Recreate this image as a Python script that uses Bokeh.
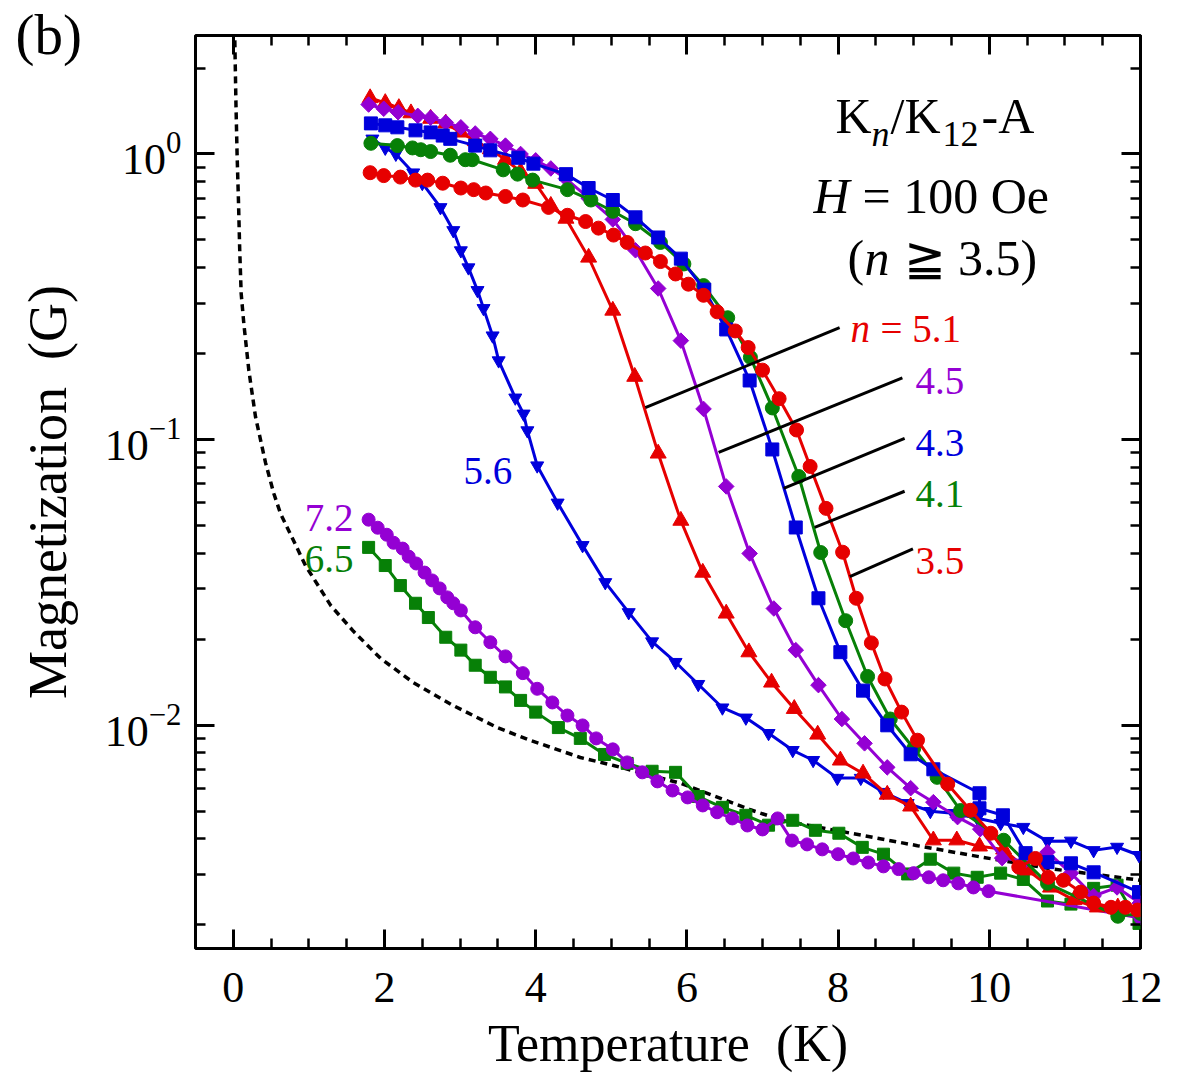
from bokeh.plotting import figure
from bokeh.models import (Range1d, LinearAxis, LogAxis, SingleIntervalTicker, LogTicker, Label,
                          CustomJSTickFormatter)
from bokeh.embed import file_html
from bokeh.resources import INLINE

FONT = "Liberation Serif"
RED = "#e60000"
BLUE = "#0000dc"
GREEN = "#078007"
PURPLE = "#9400d3"

# ---------------- data ----------------
# n = 3.5 : red circles
t_35 = [1.81, 1.99, 2.21, 2.41, 2.57, 2.77, 3.01, 3.18, 3.34, 3.60, 3.83, 4.17, 4.42, 4.66, 4.83,
        5.03, 5.21, 5.45, 5.65, 5.85, 6.02, 6.22, 6.40, 6.64, 6.81, 7.00, 7.22, 7.45, 7.63, 7.84,
        8.06, 8.24, 8.44, 8.62, 8.84, 9.05, 9.45, 9.75, 10.02, 10.39, 10.61, 10.78, 10.98, 11.21,
        11.38, 11.61, 11.80, 11.96]
m_35 = [0.86, 0.84, 0.83, 0.81, 0.81, 0.79, 0.76, 0.75, 0.73, 0.71, 0.69, 0.65, 0.61, 0.58, 0.55,
        0.52, 0.49, 0.45, 0.42, 0.38, 0.35, 0.32, 0.28, 0.24, 0.21, 0.175, 0.139, 0.108, 0.0805, 0.0574,
        0.0403, 0.0278, 0.0194, 0.0145, 0.0111, 0.00885, 0.00621, 0.00503, 0.00418, 0.00318, 0.00341,
        0.00293, 0.00286, 0.0026, 0.00238, 0.0023, 0.0023, 0.00225]

# n = 4.1 : green circles
t_41 = [1.82, 2.17, 2.37, 2.48, 2.61, 2.87, 3.07, 3.16, 3.57, 3.76, 3.96, 4.42, 4.73, 5.02, 5.32,
        5.65, 5.96, 6.22, 6.54, 6.84, 7.13, 7.48, 7.77, 8.10, 8.39, 8.69, 9.00, 9.31, 9.62, 10.19,
        10.77, 11.70, 12.0]
m_41 = [1.09, 1.07, 1.05, 1.035, 1.02, 0.99, 0.955, 0.955, 0.88, 0.85, 0.81, 0.75, 0.69, 0.63, 0.57,
        0.49, 0.412, 0.346, 0.267, 0.194, 0.129, 0.0742, 0.0402, 0.0232, 0.0148, 0.0105, 0.00828,
        0.00656, 0.00502, 0.00395, 0.00279, 0.00214, 0.00219]

# n = 4.3 : blue squares
t_43 = [1.82, 2.01, 2.17, 2.41, 2.61, 2.77, 2.87, 3.20, 3.40, 3.77, 3.97, 4.40, 4.70, 5.02, 5.32,
        5.62, 5.92, 6.23, 6.52, 6.83, 7.13, 7.44, 7.74, 8.03, 8.33, 8.65, 8.96, 9.26, 9.87, 9.87,
        10.18, 10.48, 10.77, 11.08, 11.38, 11.98]
m_43 = [1.28, 1.26, 1.24, 1.21, 1.19, 1.16, 1.13, 1.07, 1.03, 0.97, 0.925, 0.85, 0.76, 0.69, 0.60,
        0.51, 0.43, 0.335, 0.243, 0.161, 0.0923, 0.0492, 0.0278, 0.018, 0.0132, 0.00998, 0.0079,
        0.0070, 0.00577, 0.00511, 0.00483, 0.00356, 0.00331, 0.00328, 0.00305, 0.0026]

# n = 4.5 : violet diamonds
t_45 = [1.79, 1.99, 2.18, 2.44, 2.61, 2.81, 3.01, 3.20, 3.40, 3.60, 3.80, 4.00, 4.20, 4.40, 4.70,
        5.02, 5.32, 5.62, 5.92, 6.22, 6.52, 6.83, 7.15, 7.44, 7.74, 8.05, 8.35, 8.65, 8.96, 9.26,
        9.58, 9.88, 10.17, 10.47, 10.77, 11.08, 11.38, 11.69, 11.99]
m_45 = [1.49, 1.44, 1.40, 1.36, 1.34, 1.29, 1.24, 1.18, 1.13, 1.07, 1.00, 0.95, 0.89, 0.82, 0.70,
        0.59, 0.46, 0.338, 0.222, 0.128, 0.0685, 0.0399, 0.0256, 0.0183, 0.0138, 0.0105, 0.00863,
        0.00711, 0.00601, 0.00537, 0.00476, 0.00432, 0.00342, 0.00334, 0.00359, 0.00303, 0.00252,
        0.0027, 0.00238]

# n = 5.1 : red triangles
t_51 = [1.81, 2.01, 2.19, 2.35, 2.61, 2.81, 3.01, 3.20, 3.40, 3.60, 3.80, 4.00, 4.20, 4.40, 4.70,
        5.02, 5.31, 5.62, 5.92, 6.21, 6.52, 6.82, 7.12, 7.42, 7.73, 8.03, 8.33, 8.65, 8.96, 9.26,
        9.57, 9.87, 10.19, 10.51, 10.81, 11.12, 11.43, 11.70, 11.98]
m_51 = [1.57, 1.51, 1.45, 1.39, 1.33, 1.28, 1.19, 1.11, 1.04, 0.955, 0.867, 0.787, 0.659, 0.594,
        0.434, 0.283, 0.166, 0.0894, 0.052, 0.0342, 0.0246, 0.018, 0.0141, 0.0114, 0.00927, 0.00752,
        0.00677, 0.00571, 0.00519, 0.00395, 0.00395, 0.00376, 0.00367, 0.0031, 0.0027, 0.00244,
        0.0023, 0.0023, 0.00223]

# n = 5.6 : blue inverted triangles
t_56 = [1.84, 2.01, 2.15, 2.38, 2.50, 2.74, 2.91, 3.01, 3.11, 3.23, 3.31, 3.43, 3.51, 3.73, 3.84,
        3.89, 4.02, 4.29, 4.62, 4.92, 5.23, 5.54, 5.85, 6.15, 6.47, 6.78, 7.08, 7.40, 7.67, 7.99,
        8.30, 8.60, 8.92, 9.22, 9.52, 9.84, 10.15, 10.45, 10.77, 11.08, 11.38, 11.69, 11.98]
m_56 = [1.13, 1.05, 1.00, 0.86, 0.79, 0.65, 0.54, 0.459, 0.40, 0.333, 0.288, 0.231, 0.189, 0.140,
        0.123, 0.1075, 0.081, 0.060, 0.0426, 0.0316, 0.0248, 0.0196, 0.0166, 0.0139, 0.0115, 0.0106,
        0.00936, 0.00816, 0.00753, 0.00652, 0.00652, 0.00582, 0.00532, 0.00499, 0.00491, 0.00472,
        0.00453, 0.00439, 0.00392, 0.00393, 0.00364, 0.00374, 0.0035]

# n = 6.5 : green squares
t_65 = [1.79, 2.01, 2.21, 2.41, 2.58, 2.81, 3.01, 3.20, 3.40, 3.60, 3.80, 4.00, 4.30, 4.59, 4.91,
        5.21, 5.54, 5.85, 6.15, 6.47, 6.78, 7.08, 7.40, 7.70, 8.01, 8.32, 8.60, 8.92, 9.22, 9.53,
        9.84, 10.15, 10.45, 10.77, 11.08, 11.38, 11.69, 11.98]
m_65 = [0.0419, 0.0362, 0.0308, 0.0267, 0.0238, 0.0203, 0.0183, 0.0162, 0.0147, 0.0136, 0.0122,
        0.0111, 0.0098, 0.00898, 0.00789, 0.00734, 0.00689, 0.00683, 0.00562, 0.00515, 0.00483,
        0.00446, 0.00464, 0.00428, 0.00418, 0.00373, 0.00353, 0.00301, 0.00339, 0.00303, 0.00293,
        0.00303, 0.00288, 0.00242, 0.00236, 0.00268, 0.00275, 0.00202]

# n = 7.2 : violet circles
t_72 = [1.79, 1.91, 2.03, 2.12, 2.24, 2.32, 2.42, 2.53, 2.63, 2.73, 2.83, 2.91, 3.01, 3.20, 3.40,
        3.60, 3.83, 4.02, 4.22, 4.42, 4.62, 4.80, 5.02, 5.21, 5.41, 5.61, 5.81, 6.01, 6.21, 6.40,
        6.60, 6.80, 7.00, 7.20, 7.39, 7.59, 7.79, 8.00, 8.20, 8.40, 8.60, 8.80, 9.00, 9.20, 9.39,
        9.59, 9.79, 9.99, 12.0]
m_72 = [0.0524, 0.0491, 0.0464, 0.0435, 0.0415, 0.0389, 0.0368, 0.0342, 0.0321, 0.0301, 0.0280,
        0.0267, 0.0252, 0.0220, 0.0195, 0.0174, 0.0152, 0.0134, 0.0120, 0.0108, 0.00997, 0.00898,
        0.00822, 0.0074, 0.00683, 0.00635, 0.0059, 0.00558, 0.00523, 0.00495, 0.00471, 0.00445,
        0.00431, 0.00471, 0.00394, 0.00382, 0.00367, 0.00353, 0.00341, 0.0033, 0.0032, 0.00313,
        0.00303, 0.00293, 0.00286, 0.00279, 0.0027, 0.00262, 0.00211]

# dotted reference curve
t_fit = [0.02, 0.035, 0.05, 0.068, 0.085, 0.104, 0.139, 0.205, 0.294, 0.426, 0.536, 0.624, 0.955,
         1.29, 1.59, 1.95, 2.38, 2.91, 3.49, 3.93, 4.59, 5.03, 5.92, 6.84, 7.28, 8.17, 9.05, 9.92,
         10.81, 11.70, 12.0]
m_fit = [2.5, 1.5, 1.0, 0.69, 0.46, 0.325, 0.255, 0.175, 0.12, 0.083, 0.0647, 0.0551, 0.0362,
         0.0262, 0.0213, 0.0171, 0.0141, 0.0117, 0.0098, 0.00884, 0.0077, 0.00722, 0.00625, 0.00505,
         0.00462, 0.00418, 0.00378, 0.00344, 0.00314, 0.00293, 0.00286]

# leader lines for the n labels (5.1, 4.5, 4.3, 4.1, 3.5)
lead_t0 = [5.45, 6.42, 7.28, 7.69, 8.155]
lead_m0 = [0.1294, 0.0901, 0.0675, 0.0492, 0.0331]
lead_t1 = [8.02, 8.85, 8.88, 8.88, 8.99]
lead_m1 = [0.2465, 0.1644, 0.101, 0.0659, 0.0414]

x_ticks_interval = 2

# ---------------- figure ----------------
p = figure(frame_width=945, frame_height=913,
           min_border_left=195, min_border_right=40, min_border_top=35, min_border_bottom=137,
           x_range=Range1d(-0.5, 12), y_range=Range1d(0.00165, 2.6), y_axis_type="log",
           output_backend="svg", toolbar_location=None)
p.background_fill_color = "white"
p.border_fill_color = "white"
p.xgrid.visible = False
p.ygrid.visible = False
p.outline_line_color = "black"
p.outline_line_width = 3
p.outline_line_alpha = 1.0

# panel letter "(b)" drawn as the plot title, pulled to the left of the frame
p.title.text = "(b)"
p.title.align = "left"
p.title.offset = -180
p.title.standoff = -60
p.title.vertical_align = "bottom"
p.title.text_font = FONT
p.title.text_font_size = "57px"
p.title.text_font_style = "normal"
p.title.text_color = "black"


def style_axis(ax, labels=True):
    ax.axis_line_color = None
    ax.major_tick_in = 19
    ax.major_tick_out = 0
    ax.minor_tick_in = 10
    ax.minor_tick_out = 0
    ax.major_tick_line_width = 3
    ax.minor_tick_line_width = 2.5
    ax.major_tick_line_color = "black"
    ax.minor_tick_line_color = "black"
    ax.major_label_text_font = FONT
    ax.major_label_text_color = "black"
    ax.axis_label_text_color = "black"
    if labels:
        ax.major_label_text_font_size = "44px"
    else:
        ax.formatter = CustomJSTickFormatter(code="return ''")
        ax.major_label_text_font_size = "1px"
        ax.major_label_standoff = 0
        ax.axis_label = None


xax = p.xaxis[0]
xax.ticker = SingleIntervalTicker(interval=x_ticks_interval, num_minor_ticks=4)
style_axis(xax)
xax.major_label_standoff = 24
xax.axis_label = "Temperature \u00a0(K)"
xax.axis_label_text_font = FONT
xax.axis_label_text_font_size = "52px"
xax.axis_label_text_font_style = "normal"
xax.axis_label_standoff = 10

yax = p.yaxis[0]
yax.ticker = LogTicker(num_minor_ticks=10)
style_axis(yax)
yax.major_label_standoff = 14
yax.axis_label = "Magnetization \u00a0(G)"
yax.axis_label_text_font = FONT
yax.axis_label_text_font_size = "54px"
yax.axis_label_text_font_style = "normal"
yax.axis_label_standoff = 24

top = LinearAxis(ticker=SingleIntervalTicker(interval=x_ticks_interval, num_minor_ticks=4))
style_axis(top, labels=False)
p.add_layout(top, "above")
right = LogAxis(ticker=LogTicker(num_minor_ticks=10))
style_axis(right, labels=False)
p.add_layout(right, "right")

# dotted curve
p.line(t_fit, m_fit, line_color="black", line_width=3.5, line_dash="7 5")

# series
p.line(t_65, m_65, line_color=GREEN, line_width=3)
p.scatter(t_65, m_65, marker="square", size=12, fill_color=GREEN, line_color=GREEN)
p.line(t_72, m_72, line_color=PURPLE, line_width=3)
p.scatter(t_72, m_72, marker="circle", size=13, fill_color=PURPLE, line_color=PURPLE)
p.line(t_56, m_56, line_color=BLUE, line_width=3)
p.scatter(t_56, m_56, marker="inverted_triangle", size=13, fill_color=BLUE, line_color=BLUE)
p.line(t_51, m_51, line_color=RED, line_width=3)
p.scatter(t_51, m_51, marker="triangle", size=16, fill_color=RED, line_color=RED)
p.line(t_45, m_45, line_color=PURPLE, line_width=3)
p.scatter(t_45, m_45, marker="square", angle=0.7854, size=11, fill_color=PURPLE, line_color=PURPLE)
p.line(t_41, m_41, line_color=GREEN, line_width=3)
p.scatter(t_41, m_41, marker="circle", size=14, fill_color=GREEN, line_color=GREEN)
p.line(t_43, m_43, line_color=BLUE, line_width=3)
p.scatter(t_43, m_43, marker="square", size=13, fill_color=BLUE, line_color=BLUE)
p.line(t_35, m_35, line_color=RED, line_width=3)
p.scatter(t_35, m_35, marker="circle", size=14, fill_color=RED, line_color=RED)

# leader lines
p.segment(x0=lead_t0, y0=lead_m0, x1=lead_t1, y1=lead_m1, line_color="black", line_width=3)

# ---------------- texts ----------------
FRAME_LEFT = 195
FRAME_BOTTOM = 948


def txt(s, px, py, size, color="black", style="normal", align="left"):
    p.add_layout(Label(x=px - FRAME_LEFT, y=FRAME_BOTTOM - py, x_units="screen", y_units="screen",
                       text=s, text_font=FONT, text_font_size=f"{size}px", text_color=color,
                       text_font_style=style, text_align=align, text_baseline="alphabetic"))


txt("K", 835, 115, 50)
txt("n", 871, 133, 36, style="italic")
txt("/K", 890, 115, 50)
txt("12", 942, 133, 36)
txt("-A", 981, 115, 50)
txt("H", 813, 195, 50, style="italic")
txt("= 100 Oe", 862, 195, 50)
txt("(", 847, 257, 50)
txt("n", 864, 257, 50, style="italic")
txt("\u2267 3.5)", 903, 257, 50)

txt("n", 850, 328, 39, RED, style="italic")
txt("= 5.1", 880, 328, 39, RED)
txt("4.5", 915, 380, 39, PURPLE)
txt("4.3", 915, 442, 39, BLUE)
txt("4.1", 915, 493, 39, GREEN)
txt("3.5", 915, 560, 39, RED)
txt("5.6", 463, 470, 39, BLUE)
txt("7.2", 353, 517, 39, PURPLE, align="right")
txt("6.5", 353, 558, 39, GREEN, align="right")

open("out.html", "w").write(file_html(p, INLINE))
